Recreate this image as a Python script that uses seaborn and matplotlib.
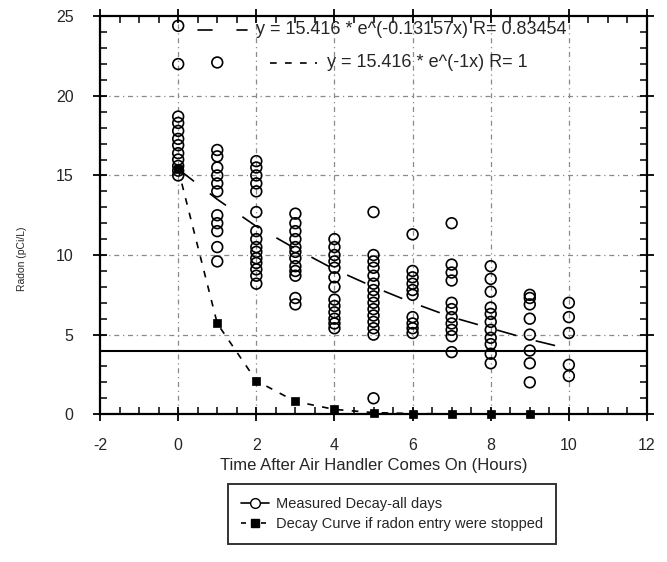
import matplotlib
matplotlib.use("Agg")
import matplotlib.pyplot as plt
from matplotlib.lines import Line2D
from matplotlib.ticker import MultipleLocator
import numpy as np
import pandas as pd
import seaborn as sns

# ---------------- data ----------------
meas_0 = [24.4, 22.0, 18.7, 18.3, 17.8, 17.3, 16.9, 16.4, 16.0, 15.6, 15.3, 15.0]
meas_1 = [22.1, 16.6, 16.2, 15.5, 15.0, 14.5, 14.0, 12.5, 12.0, 11.5, 10.5, 9.6]
meas_2 = [15.9, 15.5, 15.0, 14.5, 14.0, 12.7, 11.5, 11.0, 10.5, 10.2, 9.8, 9.5, 9.1, 8.7, 8.2]
meas_3 = [12.6, 12.0, 11.5, 11.0, 10.5, 10.2, 9.8, 9.3, 9.0, 8.7, 7.3, 6.9]
meas_4 = [11.0, 10.5, 10.0, 9.6, 9.2, 8.6, 8.0, 7.2, 6.8, 6.4, 6.0, 5.7, 5.4]
meas_5 = [12.7, 10.0, 9.6, 9.2, 8.7, 8.2, 7.8, 7.4, 7.0, 6.6, 6.2, 5.8, 5.4, 5.0, 1.0]
meas_6 = [11.3, 9.0, 8.6, 8.2, 7.8, 7.5, 6.1, 5.7, 5.4, 5.1]
meas_7 = [12.0, 9.4, 8.9, 8.4, 7.0, 6.6, 6.1, 5.7, 5.3, 4.9, 3.9]
meas_8 = [9.3, 8.5, 7.7, 6.7, 6.3, 5.8, 5.3, 4.8, 4.4, 3.8, 3.2]
meas_9 = [7.5, 7.3, 6.9, 6.0, 5.0, 4.0, 3.2, 2.0]
meas_10 = [7.0, 6.1, 5.1, 3.1, 2.4]
measured = [meas_0, meas_1, meas_2, meas_3, meas_4, meas_5,
            meas_6, meas_7, meas_8, meas_9, meas_10]

fit_hours = [0, 1, 2, 3, 4, 5, 6, 7, 8, 9, 10]
fit_radon = [15.4, 13.5, 11.8, 10.4, 9.1, 8.0, 7.0, 6.1, 5.4, 4.7, 4.1]

decay_hours = [0, 1, 2, 3, 4, 5, 6, 7, 8, 9]
decay_radon = [15.4, 5.7, 2.1, 0.8, 0.3, 0.1, 0.04, 0.01, 0.0, 0.0]

action_level = 4.0

fit_label = "y = 15.416 * e^(-0.13157x) R= 0.83454"
decay_fit_label = "y = 15.416 * e^(-1x) R= 1"
legend_labels = ["Measured Decay-all days", "Decay Curve if radon entry were stopped"]
xlabel = "Time After Air Handler Comes On (Hours)"
ylabel = "Radon (pCi/L)"

rows = []
for h, vals in enumerate(measured):
    for v in vals:
        rows.append((h, v))
df_meas = pd.DataFrame(rows, columns=["hours", "radon"])
df_fit = pd.DataFrame({"hours": fit_hours, "radon": fit_radon})
df_decay = pd.DataFrame({"hours": decay_hours, "radon": decay_radon})

# ---------------- style ----------------
sns.set_style("ticks")
plt.rcParams["font.family"] = ["Liberation Sans", "DejaVu Sans"]
plt.rcParams["axes.unicode_minus"] = False

fig = plt.figure(figsize=(6.67, 5.62), dpi=100)
ax = fig.add_axes([0.150, 0.263, 0.820, 0.708])

ax.set_xlim(-2, 12)
ax.set_ylim(0, 25)

# grid (dash-dot gray)
for gx in [0, 2, 4, 6, 8, 10]:
    ax.axvline(gx, color="#8a8a8a", lw=0.9, ls=(0, (4, 3, 1, 3)), zorder=0)
for gy in [5, 10, 15, 20]:
    ax.axhline(gy, color="#8a8a8a", lw=0.9, ls=(0, (4, 3, 1, 3)), zorder=0)

ax.axhline(action_level, color="black", lw=1.5, zorder=1)

# fit line (long dashes)
sns.lineplot(data=df_fit, x="hours", y="radon", ax=ax, color="black",
             lw=1.2, linestyle=(0, (12, 12)), zorder=2)
# decay curve (short dashes with squares)
sns.lineplot(data=df_decay, x="hours", y="radon", ax=ax, color="black",
             lw=1.2, linestyle=(0, (4, 5)), zorder=2)
sns.scatterplot(data=df_decay, x="hours", y="radon", ax=ax, marker="s",
                s=40, color="black", edgecolor="black", zorder=4, clip_on=False)
# measured circles
sns.scatterplot(data=df_meas, x="hours", y="radon", ax=ax, marker="o",
                s=60, facecolor="none", edgecolor="black", linewidth=1.2,
                zorder=3, clip_on=False)

# ticks
ax.xaxis.set_major_locator(MultipleLocator(2))
ax.xaxis.set_minor_locator(MultipleLocator(0.5))
ax.yaxis.set_major_locator(MultipleLocator(5))
ax.yaxis.set_minor_locator(MultipleLocator(1))
ax.tick_params(which="major", direction="inout", length=10, width=1.3,
               top=True, right=True, labelsize=11.5, color="black")
ax.tick_params(which="minor", direction="in", length=5, width=1.1,
               top=True, right=True, color="black")
ax.tick_params(axis="x", which="major", pad=12)
ax.tick_params(axis="y", which="major", pad=14)
for sp in ax.spines.values():
    sp.set_linewidth(1.6)
    sp.set_color("black")

ax.set_xlabel(xlabel, fontsize=12, labelpad=4)
ax.set_ylabel(ylabel, fontsize=7.5)
ax.yaxis.set_label_coords(-0.133, 0.39)

# in-plot fit legend
ax.plot([0.179, 0.205], [0.966, 0.966], transform=ax.transAxes, color="black", lw=1.2)
ax.plot([0.250, 0.269], [0.966, 0.966], transform=ax.transAxes, color="black", lw=1.2)
ax.text(0.285, 0.966, fit_label, transform=ax.transAxes, fontsize=13,
        va="center", ha="left")
ax.plot([0.311, 0.397], [0.883, 0.883], transform=ax.transAxes, color="black",
        lw=1.2, ls=(0, (4, 5)))
ax.text(0.415, 0.883, decay_fit_label, transform=ax.transAxes, fontsize=13,
        va="center", ha="left")

# bottom legend
handles = [
    Line2D([], [], color="black", lw=1.2, marker="o", markersize=7,
           markerfacecolor="white", markeredgecolor="black"),
    Line2D([], [], color="black", lw=1.2, ls=(0, (3, 3)), marker="s",
           markersize=6, markerfacecolor="black"),
]
leg = fig.legend(handles, legend_labels, loc="upper left",
                 bbox_to_anchor=(0.342, 0.139), fontsize=10.5,
                 frameon=True, fancybox=False, edgecolor="black",
                 handlelength=1.9, handletextpad=0.5, borderpad=0.9,
                 labelspacing=0.4, borderaxespad=0.0)
leg.get_frame().set_linewidth(1.4)

fig.savefig("out.png", dpi=100)
